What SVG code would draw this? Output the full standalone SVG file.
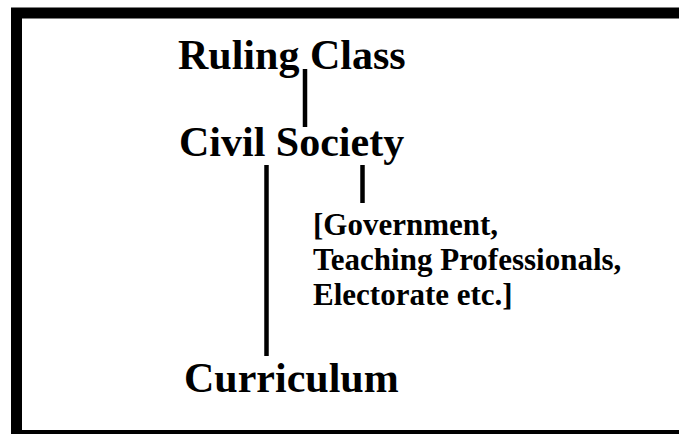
<svg xmlns="http://www.w3.org/2000/svg" width="679" height="434" viewBox="0 0 679 434">
  <style>
    .frame { fill: none; stroke: #000; stroke-width: 11; }
    .title { font-family: "Liberation Serif", "Times New Roman", serif; font-weight: bold; font-size: 42px; fill: #000; }
    .note { font-family: "Liberation Serif", "Times New Roman", serif; font-weight: bold; font-size: 31px; fill: #000; }
    .link { stroke: #000; stroke-width: 4.5; fill: none; }
  </style>
  <rect width="679" height="434" fill="#fff"/>
  <!-- heavy frame; right and bottom runs continue past the page edge -->
  <rect class="frame" x="16.5" y="13" width="720" height="422.5"/>

  <g id="connectors">
    <line class="link" x1="305" y1="69" x2="305" y2="127"/>
    <line class="link" x1="266.5" y1="165" x2="266.5" y2="356"/>
    <line class="link" x1="362.5" y1="165" x2="362.5" y2="203"/>
  </g>

  <g id="ruling-class">
    <text class="title" x="178" y="69">Ruling Class</text>
  </g>
  <g id="civil-society">
    <text class="title" x="179" y="156">Civil Society</text>
  </g>
  <g id="institutions">
    <text class="note" x="313" y="235">[Government,</text>
    <text class="note" x="313" y="270">Teaching Professionals,</text>
    <text class="note" x="313" y="305">Electorate etc.]</text>
  </g>
  <g id="curriculum">
    <text class="title" x="184" y="392">Curriculum</text>
  </g>
</svg>
